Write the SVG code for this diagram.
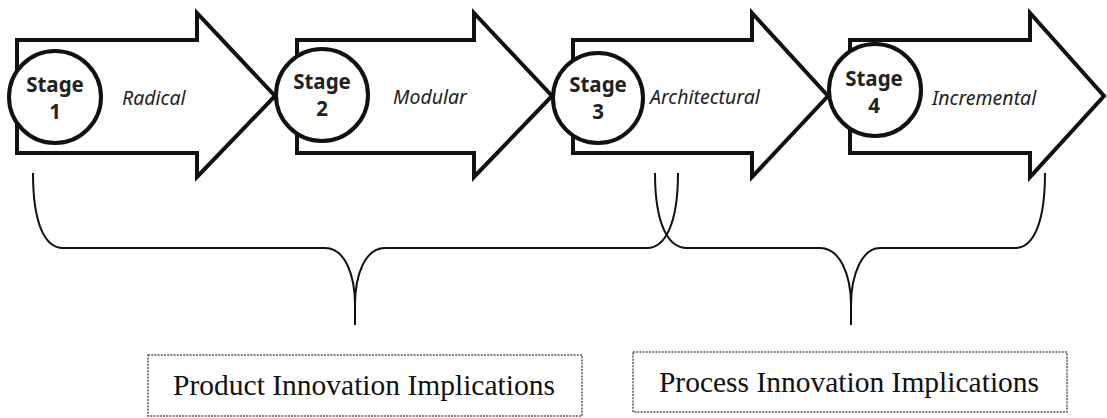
<svg xmlns="http://www.w3.org/2000/svg" width="1107" height="418" viewBox="0 0 1107 418">
<style>
.arrow{fill:#fff;stroke:#111;stroke-width:4;stroke-linejoin:miter}
.circ{fill:#fff;stroke:#111;stroke-width:4}
.st{font-family:"Noto Sans","Open Sans",sans-serif;font-weight:bold;font-size:20.5px;fill:#222;text-anchor:middle}
.lb{font-family:"Noto Sans","Open Sans",sans-serif;font-style:italic;font-size:19.5px;fill:#222}
.brace{fill:none;stroke:#111;stroke-width:2}
.box{fill:#fff;stroke:#555;stroke-width:1.5;stroke-dasharray:2 1.2}
.bt{font-family:"Liberation Serif","Times New Roman",serif;font-size:29.5px;fill:#111;text-anchor:middle}
</style>
<rect width="1107" height="418" fill="#fff"/>
<g id="stage1">
<path class="arrow" d="M17,40 L197,40 L197,13 L275,96 L197,177 L197,153 L17,153 Z"/>
<circle class="circ" cx="55" cy="97" r="46"/>
<text class="st" x="55" y="92">Stage</text>
<text class="st" x="55" y="119">1</text>
<text class="lb" x="122" y="105">Radical</text>
</g>
<g id="stage2">
<path class="arrow" d="M297,40 L474,40 L474,13 L552,96 L474,177 L474,153 L297,153 Z"/>
<circle class="circ" cx="322" cy="95" r="46"/>
<text class="st" x="322" y="89">Stage</text>
<text class="st" x="322" y="116">2</text>
<text class="lb" x="393" y="104">Modular</text>
</g>
<g id="stage3">
<path class="arrow" d="M573,40 L752,40 L752,13 L828,96 L752,177 L752,153 L573,153 Z"/>
<circle class="circ" cx="598" cy="98" r="45"/>
<text class="st" x="598" y="92">Stage</text>
<text class="st" x="598" y="119">3</text>
<text class="lb" x="650" y="104">Architectural</text>
</g>
<g id="stage4">
<path class="arrow" d="M850,40 L1030,40 L1030,13 L1104,96 L1030,177 L1030,153 L850,153 Z"/>
<circle class="circ" cx="875" cy="90" r="46"/>
<text class="st" x="874" y="86">Stage</text>
<text class="st" x="874" y="113">4</text>
<text class="lb" x="932" y="105">Incremental</text>
</g>
<g id="connectors">
<path class="brace" d="M33,173 C33,224 45,248 63,248 L325,248 C345,248 355,275 355,305 L355,325 M355,305 C355,275 365,248 385,248 L647,248 C665,248 678,224 678,173"/>
<path class="brace" d="M655,173 C655,224 668,248 687,248 L820,248 C840,248 851,275 851,305 L851,325 M851,305 C851,275 862,248 880,248 L1015,248 C1033,248 1045,224 1045,173"/>
</g>
<g id="product">
<rect class="box" x="148" y="355" width="434" height="61"/>
<text class="bt" x="364" y="395">Product Innovation Implications</text>
</g>
<g id="process">
<rect class="box" x="633" y="352" width="434" height="60"/>
<text class="bt" x="849" y="392">Process Innovation Implications</text>
</g>
</svg>
